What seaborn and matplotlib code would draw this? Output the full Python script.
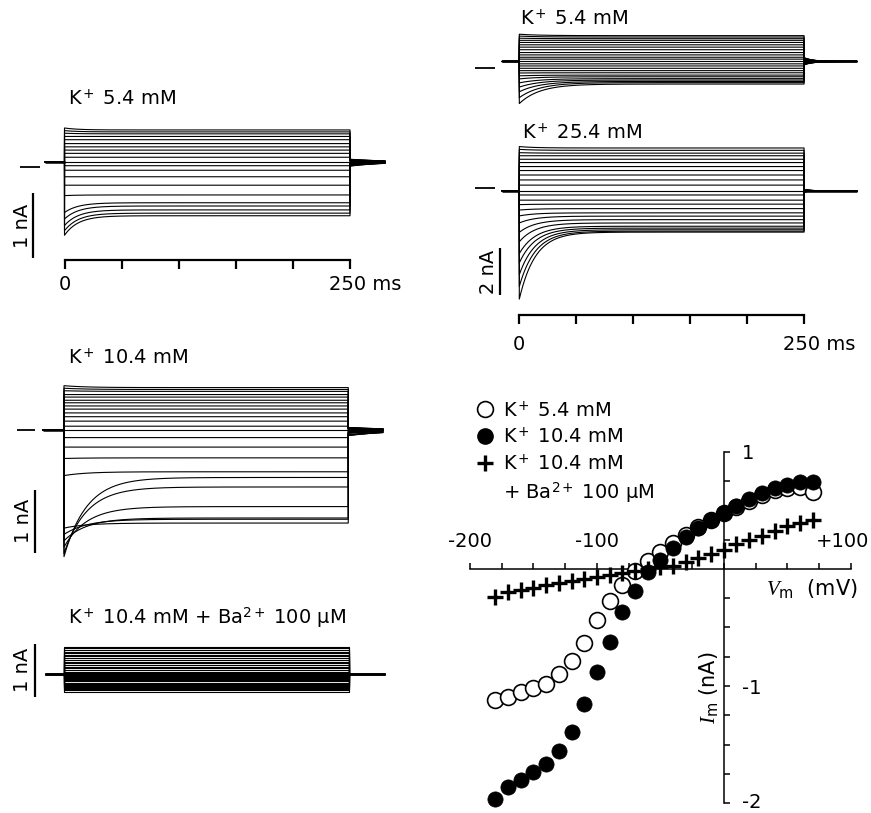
import numpy as np
import pandas as pd
import matplotlib
matplotlib.use("Agg")
import matplotlib.pyplot as plt
import matplotlib.transforms as mtransforms
from matplotlib.lines import Line2D
from matplotlib.ticker import FixedLocator
import seaborn as sns

# ---------------- whole-cell current sweeps (nA) ----------------
# each sweep: steady-state level during the 250 ms step and its initial level
# K+ 5.4 mM (left)
a_hold = 0.08
a_ss = [0.57, 0.54, 0.51, 0.47, 0.42, 0.36, 0.31, 0.26, 0.21, 0.15, 0.08,
        0.02, -0.05, -0.15, -0.28, -0.43, -0.55, -0.60, -0.66, -0.71, -0.75]
a_peak = [0.60, 0.56, 0.52, 0.47, 0.42, 0.36, 0.31, 0.26, 0.21, 0.15, 0.08,
          0.02, -0.05, -0.15, -0.28, -0.44, -0.70, -0.80, -0.90, -0.98, -1.05]
a_tau = 12.0

# K+ 5.4 mM (right)
b_hold = 0.29
b_ss = [1.39, 1.33, 1.26, 1.19, 1.10, 1.00, 0.90, 0.79, 0.67, 0.57, 0.47, 0.39,
        0.29, 0.19, 0.10, 0.00, -0.10, -0.19, -0.29, -0.36, -0.44, -0.50,
        -0.56, -0.61, -0.67]
b_peak = [1.45, 1.37, 1.28, 1.19, 1.10, 1.00, 0.90, 0.79, 0.67, 0.57, 0.47, 0.39,
          0.29, 0.19, 0.10, 0.00, -0.10, -0.20, -0.32, -0.45, -0.62, -0.80,
          -1.00, -1.25, -1.50]
b_tau = 18.0

# K+ 25.4 mM
c_hold = -0.13
c_ss = [1.69, 1.59, 1.47, 1.36, 1.21, 1.07, 0.90, 0.73, 0.54, 0.33, 0.11, -0.13,
        -0.31, -0.53, -0.70, -0.89, -1.07, -1.21, -1.36, -1.50, -1.64, -1.72,
        -1.79, -1.85, -1.89]
c_peak = [1.75, 1.63, 1.49, 1.36, 1.21, 1.07, 0.90, 0.73, 0.54, 0.33, 0.11, -0.13,
          -0.31, -0.53, -0.72, -0.95, -1.20, -1.50, -1.90, -2.30, -2.80, -3.20,
          -3.70, -4.20, -4.74]
c_tau = 14.0

# K+ 10.4 mM
d_hold = 0.0
d_ss = [0.67, 0.64, 0.61, 0.56, 0.52, 0.47, 0.43, 0.38, 0.33, 0.27, 0.21, 0.14,
        0.06, 0.00, -0.12, -0.27, -0.44, -0.66, -0.75, -0.90, -1.21, -1.39,
        -1.41, -1.47]
d_peak = [0.70, 0.66, 0.62, 0.56, 0.52, 0.47, 0.43, 0.38, 0.33, 0.27, 0.21, 0.14,
          0.06, 0.00, -0.12, -0.27, -0.45, -0.72, -2.00, -1.95, -1.85, -1.75,
          -1.65, -1.55]
d_tau = 20.0

# K+ 10.4 mM + Ba2+ 100 uM
e_hold = 0.0
e_ss = [0.51, 0.48, 0.45, 0.42, 0.39, 0.36, 0.33, 0.30, 0.26, 0.23, 0.20, 0.17,
        0.14, 0.11, 0.075, 0.045, 0.02, 0.00, -0.02, -0.04, -0.06, -0.08, -0.10,
        -0.12, -0.14, -0.16, -0.18, -0.20, -0.22, -0.24, -0.26, -0.28, -0.30,
        -0.33]

# ---------------- current-voltage relations ----------------
iv_vm = [-180, -170, -160, -150, -140, -130, -120, -110, -100, -90, -80, -70, -60,
         -50, -40, -30, -20, -10, 0, 10, 20, 30, 40, 50, 60, 70]
iv_k54 = [-1.12, -1.09, -1.05, -1.02, -0.98, -0.90, -0.79, -0.63, -0.44, -0.27,
          -0.14, -0.02, 0.07, 0.14, 0.22, 0.29, 0.36, 0.42, 0.48, 0.53, 0.58,
          0.63, 0.67, 0.69, 0.70, 0.66]
iv_k104 = [-1.96, -1.86, -1.80, -1.73, -1.665, -1.55, -1.39, -1.15, -0.88, -0.62,
           -0.37, -0.19, -0.03, 0.08, 0.18, 0.27, 0.35, 0.42, 0.48, 0.54, 0.60,
           0.65, 0.69, 0.72, 0.74, 0.745]
iv_ba = [-0.24, -0.20, -0.18, -0.16, -0.14, -0.12, -0.10, -0.083, -0.065, -0.05,
         -0.035, -0.02, -0.005, 0.015, 0.025, 0.06, 0.09, 0.125, 0.165, 0.21,
         0.25, 0.28, 0.32, 0.365, 0.39, 0.42]

# ---------------- style ----------------
sns.set_theme(style="white", rc={
    "axes.edgecolor": "black", "text.color": "black", "xtick.color": "black",
    "ytick.color": "black", "axes.labelcolor": "black"})
plt.rcParams["font.family"] = ["DejaVu Sans"]
plt.rcParams["mathtext.fontset"] = "custom"
plt.rcParams["mathtext.rm"] = "DejaVu Sans"
plt.rcParams["mathtext.it"] = "Liberation Serif:italic"
plt.rcParams["mathtext.bf"] = "DejaVu Sans:bold"
FS = 14

W, H = 871, 813
fig = plt.figure(figsize=(W / 100, H / 100), dpi=100)
fig.patch.set_facecolor("white")


def ftext(x, y, s, **kw):
    kw.setdefault("fontsize", FS)
    kw.setdefault("va", "center")
    kw.setdefault("ha", "left")
    return fig.text(x / W, 1 - y / H, s, **kw)


def trace_panel(box, t0_px, zero_px, px_ms, px_na):
    x0, y0, x1, y1 = box
    ax = fig.add_axes([x0 / W, 1 - y1 / H, (x1 - x0) / W, (y1 - y0) / H])
    ax.patch.set_alpha(0)

    def tx(X):
        return (X - t0_px) / px_ms

    def iy(Y):
        return (zero_px - Y) / px_na

    lims = ((tx(x0), tx(x1)), (iy(y1), iy(y0)))
    return ax, tx, iy, lims


def sweep_frame(hold, ss, peak, tau, t_pre, t_post, tail_gain, tail_tau):
    t_step = np.linspace(0, 250, 626)
    t_tail = np.linspace(250, t_post, 120)
    parts = []
    for k, (s, p) in enumerate(zip(ss, peak)):
        i_step = s + (p - s) * np.exp(-t_step / tau)
        i_tail = hold + tail_gain * (s - hold) * np.exp(-(t_tail - 250) / tail_tau)
        t = np.concatenate([[t_pre, 0.0], t_step, t_tail])
        i = np.concatenate([[hold, hold], i_step, i_tail])
        parts.append(pd.DataFrame({"t": t, "i": i, "sweep": k}))
    return pd.concat(parts, ignore_index=True)


def draw_panel(ax, lims, hold, ss, peak, tau, t_pre, t_post, tail_gain, tail_tau):
    df = sweep_frame(hold, ss, peak, tau, t_pre, t_post, tail_gain, tail_tau)
    sns.lineplot(data=df, x="t", y="i", units="sweep", estimator=None,
                 sort=False, color="black", lw=0.8, ax=ax, legend=False)
    ax.plot([t_pre, 0], [hold, hold], color="black", lw=1.8, solid_capstyle="butt")
    ax.plot([250, t_post], [hold, hold], color="black", lw=1.8, solid_capstyle="butt")
    ax.set_xlim(*lims[0])
    ax.set_ylim(*lims[1])
    ax.set_xlabel("")
    ax.set_ylabel("")
    for sp in ax.spines.values():
        sp.set_visible(False)
    ax.set_xticks([])
    ax.set_yticks([])


def time_axis(ax, i_axis, pad):
    sp = ax.spines["bottom"]
    sp.set_visible(True)
    sp.set_position(("data", i_axis))
    sp.set_bounds(0, 250)
    sp.set_linewidth(1.6)
    ax.set_xticks([0, 50, 100, 150, 200, 250])
    ax.set_xticklabels(["0", "", "", "", "", "250 ms"])
    ax.tick_params(axis="x", bottom=True, direction="out", length=6.5,
                   width=1.6, pad=pad, labelsize=FS)
    last = ax.get_xticklabels()[-1]
    last.set_transform(last.get_transform() +
                       mtransforms.ScaledTranslation(0.15, 0, fig.dpi_scale_trans))


def scale_bar(ax, t_bar, i_bottom, size, t_label, text):
    ax.plot([t_bar, t_bar], [i_bottom, i_bottom + size], color="black", lw=1.6,
            clip_on=False, solid_capstyle="butt")
    ax.text(t_label, i_bottom + size / 2, text, rotation=90, ha="center",
            va="center", fontsize=FS)


def zero_mark(ax, t_a, t_b):
    ax.plot([t_a, t_b], [0, 0], color="black", lw=1.3, clip_on=False,
            solid_capstyle="butt")


# ---- K+ 5.4 mM (left) ----
ax, tx, iy, lims = trace_panel((0, 85, 430, 300), 64.5, 167, 1.142, 65)
draw_panel(ax, lims, a_hold, a_ss, a_peak, a_tau, tx(45), tx(385), 0.08, 30)
time_axis(ax, iy(260), 4)
scale_bar(ax, tx(33), iy(258), 1.0, tx(22), "1 nA")
zero_mark(ax, tx(20), tx(40))
ftext(68, 98, r"K$^+$ 5.4 mM")

# ---- K+ 10.4 mM ----
ax, tx, iy, lims = trace_panel((0, 340, 430, 585), 64, 430, 1.137, 63.3)
draw_panel(ax, lims, d_hold, d_ss, d_peak, d_tau, tx(43), tx(383), 0.06, 40)
scale_bar(ax, tx(35), iy(553), 1.0, tx(24), "1 nA")
zero_mark(ax, tx(17), tx(35))
ftext(68, 357, r"K$^+$ 10.4 mM")

# ---- K+ 10.4 mM + Ba2+ ----
ax, tx, iy, lims = trace_panel((0, 600, 430, 720), 63.5, 674, 1.14, 53.5)
draw_panel(ax, lims, e_hold, e_ss, e_ss, 10.0, tx(45), tx(385), 0.0, 10)
scale_bar(ax, tx(35), iy(697), 1.0, tx(23), "1 nA")
ftext(68, 618, r"K$^+$ 10.4 mM + Ba$^{2+}$ 100 µM")

# ---- K+ 5.4 mM (right) ----
ax, tx, iy, lims = trace_panel((460, 0, 871, 115), 519.3, 68.3, 1.139, 23.5)
draw_panel(ax, lims, b_hold, b_ss, b_peak, b_tau, tx(502), tx(857), 0.15, 8)
zero_mark(ax, tx(475), tx(495))
ftext(520, 18, r"K$^+$ 5.4 mM")

# ---- K+ 25.4 mM ----
ax, tx, iy, lims = trace_panel((460, 115, 871, 365), 519.3, 187.7, 1.139, 23.5)
draw_panel(ax, lims, c_hold, c_ss, c_peak, c_tau, tx(502), tx(857), 0.03, 5)
time_axis(ax, iy(315), 8)
scale_bar(ax, tx(500), iy(295), 2.0, tx(488), "2 nA")
zero_mark(ax, tx(475), tx(495))
ftext(522, 132, r"K$^+$ 25.4 mM")

# ---------------- I-V plot ----------------
iv = fig.add_axes([470 / W, 1 - 803.3 / H, 380.7 / W, 351.6 / H])
iv.patch.set_alpha(0)
sns.scatterplot(x=iv_vm, y=iv_k54, ax=iv, marker="o", s=130, facecolor="white",
                edgecolor="black", linewidth=1.2, clip_on=False, zorder=3)
sns.scatterplot(x=iv_vm, y=iv_k104, ax=iv, marker="o", s=120, color="black",
                edgecolor="black", linewidth=0.5, clip_on=False, zorder=4)
sns.scatterplot(x=iv_vm, y=iv_ba, ax=iv, marker="+", s=140, color="black",
                linewidth=2.4, clip_on=False, zorder=5)
iv.set_xlim(-200, 100)
iv.set_ylim(-2, 1)
iv.spines["bottom"].set_visible(False)
iv.spines["left"].set_visible(False)
iv.spines["top"].set_position(("data", 0))
iv.spines["top"].set_bounds(-200, 100)
iv.spines["right"].set_position(("data", 0))
iv.spines["right"].set_bounds(-2, 1)
for s in ("top", "right"):
    iv.spines[s].set_visible(True)
    iv.spines[s].set_linewidth(1.1)
iv.xaxis.set_ticks_position("top")
iv.yaxis.set_ticks_position("right")
iv.xaxis.set_major_locator(FixedLocator([-200, -100, 100]))
iv.set_xticklabels(["-200", "-100", "+100"])
iv.xaxis.set_minor_locator(FixedLocator([-175, -150, -125, -75, -50, -25, 0, 25, 50, 75]))
iv.yaxis.set_major_locator(FixedLocator([-2, -1, 1]))
iv.set_yticklabels(["-2", "-1", "1"])
iv.yaxis.set_minor_locator(FixedLocator([-1.75, -1.5, -1.25, -0.75, -0.5, -0.25,
                                         0.25, 0.5, 0.75]))
iv.tick_params(axis="x", which="both", top=True, bottom=False, direction="out",
               length=4, width=1.1, pad=9, labelsize=FS)
iv.tick_params(axis="y", which="both", right=True, left=False, direction="out",
               length=4, width=1.1, pad=9, labelsize=FS)
iv.set_xlabel("")
iv.set_ylabel("")
# keep the end labels inside the figure
xl = iv.get_xticklabels()[-1]
xl.set_transform(xl.get_transform() +
                 mtransforms.ScaledTranslation(-0.08, 0, fig.dpi_scale_trans))
yl = iv.get_yticklabels()[0]
yl.set_transform(yl.get_transform() +
                 mtransforms.ScaledTranslation(0, 0.03, fig.dpi_scale_trans))

ftext(766, 588, r"$V_{\rm m}$  (mV)", fontsize=15)
ftext(709, 688, r"$I_{\rm m}$ (nA)", fontsize=15, rotation=90, ha="center")

handles = [
    Line2D([], [], ls="none", marker="o", mfc="white", mec="black", ms=11.4, mew=1.2),
    Line2D([], [], ls="none", marker="o", mfc="black", mec="black", ms=11),
    Line2D([], [], ls="none", marker="+", color="black", ms=12, mew=2.4),
    Line2D([], [], ls="none", marker=None),
]
labels = [r"K$^+$ 5.4 mM", r"K$^+$ 10.4 mM", r"K$^+$ 10.4 mM",
          r"+ Ba$^{2+}$ 100 µM"]
fig.legend(handles, labels, loc="upper left", bbox_to_anchor=(475 / W, 1 - 400 / H),
           frameon=False, handlelength=1.0, handletextpad=0.45, borderpad=0,
           borderaxespad=0, labelspacing=0.36, fontsize=FS)

fig.savefig("out.png", dpi=100)
